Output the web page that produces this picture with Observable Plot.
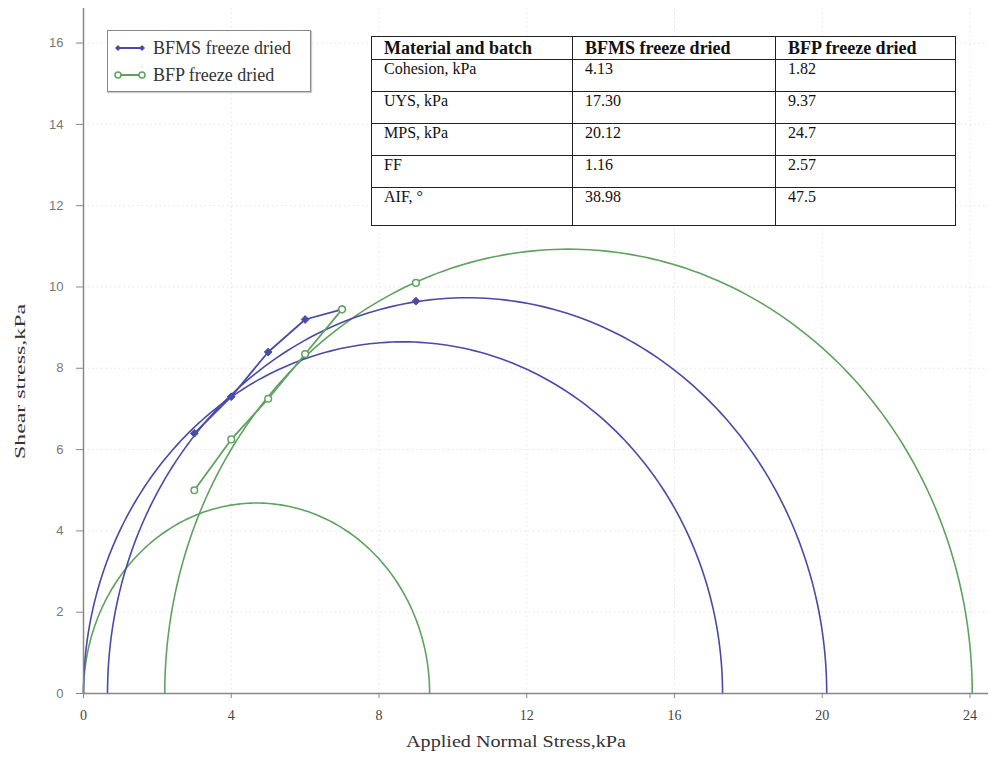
<!DOCTYPE html>
<html>
<head>
<meta charset="utf-8">
<script src="https://cdn.jsdelivr.net/npm/d3@7"></script>
<script src="https://cdn.jsdelivr.net/npm/@observablehq/plot@0.6"></script>
<style>
  html, body { margin: 0; padding: 0; background: #fff; }
  #wrap { position: relative; width: 991px; height: 762px; }
  #legend { position: absolute; left: 107px; top: 30px; width: 202px; height: 60px;
    border: 1.5px solid #888; background: #fff; box-shadow: 1px 1px 1px #ccc;
    font-family: "Liberation Serif", "Times New Roman", serif; font-size: 18px; color: #333; }
  #legend .row { position: absolute; left: 6px; display: flex; align-items: center; line-height: 18px; }
  #legend svg { margin-right: 6px; }
  #tbl { position: absolute; left: 371px; top: 36px; border-collapse: collapse;
    font-family: "Liberation Serif", "Times New Roman", serif; font-size: 16px; color: #111; background: #fff; }
  #tbl td, #tbl th { border: 1.5px solid #222; padding: 0 12px; text-align: left; vertical-align: top; line-height: 17px; }
  #tbl th { font-weight: bold; font-size: 18px; height: 22px; vertical-align: middle; white-space: nowrap; }
  #tbl td { height: 31px; }
  #tbl tr:last-child td { height: 37px; }
</style>
</head>
<body>
<div id="wrap"></div>
<script>
// ---- Data ----
const xTicks = [0, 4, 8, 12, 16, 20, 24];
const yTicks = [0, 2, 4, 6, 8, 10, 12, 14, 16];
const seriesNames = ["BFMS freeze dried", "BFP freeze dried"];
const seriesColors = ["#4a4aa8", "#5fa25f"];
// Yield locus points
const bfmsX = [3, 4, 5, 6, 7];
const bfmsY = [6.4, 7.3, 8.4, 9.2, 9.45];
const bfpX = [3, 4, 5, 6, 7];
const bfpY = [5.0, 6.25, 7.25, 8.35, 9.45];
// Pre-shear points
const bfmsPreX = [9];
const bfmsPreY = [9.65];
const bfpPreX = [9];
const bfpPreY = [10.1];
// Mohr circles: [sigma_min, sigma_max]
const bfmsCircles = [[0, 17.3], [0.65, 20.12]];
const bfpCircles = [[0, 9.37], [2.2, 24.06]];
// Table
const tableHeader = ["Material and batch", "BFMS freeze dried", "BFP freeze dried"];
const tableRows = ["Cohesion, kPa", "UYS, kPa", "MPS, kPa", "FF", "AIF, °"];
const tableBFMS = ["4.13", "17.30", "20.12", "1.16", "38.98"];
const tableBFP = ["1.82", "9.37", "24.7", "2.57", "47.5"];
const xLabel = "Applied Normal Stress,kPa";
const yLabel = "Shear stress,kPa";

// ---- Build arc tables from circle endpoints ----
function arc(c, id) {
  const [a, b] = c; const cx = (a + b) / 2, r = (b - a) / 2;
  return d3.range(0, 181).map(t => {
    const th = Math.PI * (1 - t / 180);
    return {id, x: cx + r * Math.cos(th), y: r * Math.sin(th)};
  });
}
const bfmsArcs = bfmsCircles.flatMap((c, i) => arc(c, "m" + i));
const bfpArcs = bfpCircles.flatMap((c, i) => arc(c, "p" + i));
const bfmsPts = bfmsX.map((x, i) => ({x, y: bfmsY[i]}));
const bfpPts = bfpX.map((x, i) => ({x, y: bfpY[i]}));
const bfmsPre = bfmsPreX.map((x, i) => ({x, y: bfmsPreY[i]}));
const bfpPre = bfpPreX.map((x, i) => ({x, y: bfpPreY[i]}));

const serif = "'Liberation Serif', 'Times New Roman', serif";
const sans = "'Liberation Sans', Arial, sans-serif";

const chart = Plot.plot({
  width: 991, height: 762,
  marginLeft: 83, marginRight: 3, marginTop: 8, marginBottom: 69,
  x: {domain: [0, 24.5]},
  y: {domain: [0, 16.85]},
  style: {background: "#fff", overflow: "visible"},
  marks: [
    Plot.ruleX(xTicks.filter(d => d > 0), {stroke: "#bbb", strokeDasharray: "1.5,3", strokeOpacity: 0.4}),
    Plot.ruleY(yTicks.filter(d => d > 0), {stroke: "#bbb", strokeDasharray: "1.5,3", strokeOpacity: 0.4}),
    Plot.line(bfpArcs, {x: "x", y: "y", z: "id", stroke: seriesColors[1], strokeWidth: 1.6}),
    Plot.line(bfmsArcs, {x: "x", y: "y", z: "id", stroke: seriesColors[0], strokeWidth: 1.6}),
    Plot.line(bfmsPts, {x: "x", y: "y", stroke: seriesColors[0], strokeWidth: 1.8}),
    Plot.line(bfpPts, {x: "x", y: "y", stroke: seriesColors[1], strokeWidth: 1.8}),
    Plot.dot(bfmsPts.concat(bfmsPre), {x: "x", y: "y", symbol: "diamond2", r: 3.5, fill: seriesColors[0], stroke: seriesColors[0], strokeWidth: 1}),
    Plot.dot(bfpPts.concat(bfpPre), {x: "x", y: "y", symbol: "circle", r: 3.3, fill: "#fff", stroke: seriesColors[1], strokeWidth: 1.5}),
    Plot.ruleY([0], {x1: 0, x2: 24.5, stroke: "#888", strokeWidth: 1.5}),
    Plot.ruleX([0], {y1: 0, y2: 16.85, stroke: "#888", strokeWidth: 1.5}),
    Plot.axisX({ticks: xTicks, tickSize: 5, tickPadding: 12, fontSize: 14, fontFamily: serif, color: "#444", label: null, stroke: "#888"}),
    Plot.axisY({ticks: yTicks, tickSize: 7, tickPadding: 13, fontSize: 13, fontFamily: sans, color: "#777", label: null, stroke: "#888"}),
    Plot.text([xLabel], {frameAnchor: "bottom", dx: -20, dy: 53, fontSize: 17, fontFamily: serif, fill: "#333"}),
    Plot.text([yLabel], {frameAnchor: "left", rotate: -90, dx: -63, dy: 108, fontSize: 15, fontFamily: serif, fill: "#333"})
  ]
});
const wrap = document.getElementById("wrap");
wrap.appendChild(chart);
// stretch axis titles to the reference's condensed-tall look
chart.querySelectorAll("text").forEach(t => {
  if (t.textContent === xLabel) { t.setAttribute("textLength", 220); t.setAttribute("lengthAdjust", "spacingAndGlyphs"); }
  if (t.textContent === yLabel) { t.setAttribute("textLength", 155); t.setAttribute("lengthAdjust", "spacingAndGlyphs"); }
});

// ---- Legend ----
const legend = document.createElement("div");
legend.id = "legend";
seriesNames.forEach((name, i) => {
  const row = document.createElement("div");
  row.className = "row";
  row.style.top = (i === 0 ? 8 : 35) + "px";
  const sym = i === 0
    ? `<polygon points="4,5 7,8 4,11 1,8" fill="${seriesColors[0]}"/><polygon points="28,5 31,8 28,11 25,8" fill="${seriesColors[0]}"/>`
    : `<circle cx="4" cy="8" r="3" fill="#fff" stroke="${seriesColors[1]}" stroke-width="1.5"/><circle cx="28" cy="8" r="3" fill="#fff" stroke="${seriesColors[1]}" stroke-width="1.5"/>`;
  row.innerHTML = `<svg width="33" height="16"><line x1="4" y1="8" x2="28" y2="8" stroke="${seriesColors[i]}" stroke-width="2"/>${sym}</svg><span>${name}</span>`;
  legend.appendChild(row);
});
wrap.appendChild(legend);

// ---- Table ----
const tbl = document.createElement("table");
tbl.id = "tbl";
const widths = [201, 203, 180];
let html = "<tr>" + tableHeader.map((h, i) => `<th style="width:${widths[i] - 25}px">${h}</th>`).join("") + "</tr>";
tableRows.forEach((r, i) => {
  html += `<tr><td>${r}</td><td>${tableBFMS[i]}</td><td>${tableBFP[i]}</td></tr>`;
});
tbl.innerHTML = html;
wrap.appendChild(tbl);
</script>
</body>
</html>
